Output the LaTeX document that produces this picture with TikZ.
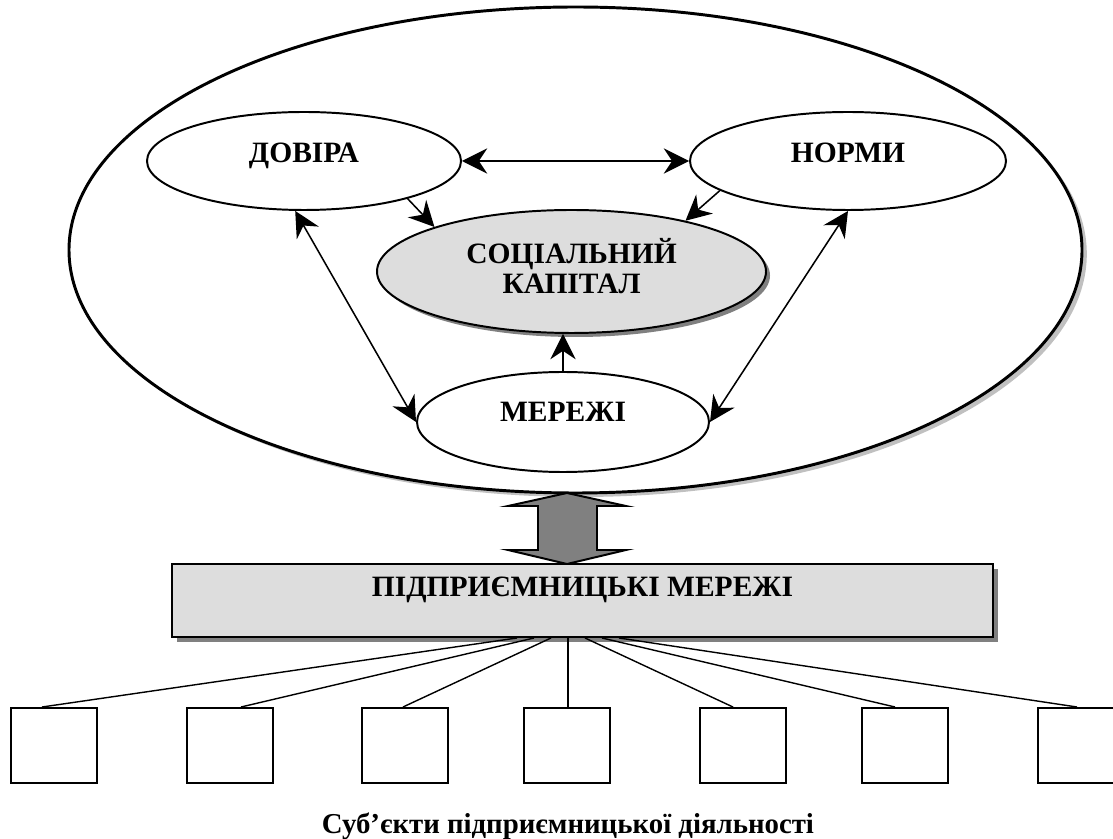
\documentclass[tikz,border=0pt]{standalone}
\usepackage{fontspec}
\setmainfont{Liberation Serif}
\usepackage{xcolor}
\usetikzlibrary{arrows.meta,shapes,shadows,calc,positioning}
\definecolor{capfill}{HTML}{DDDDDD}
\definecolor{capshadow}{HTML}{808080}
\definecolor{ringshadow}{HTML}{C0C0C0}

\begin{document}
\begin{tikzpicture}
		\tikzstyle{every node}=[font=\bfseries\fontsize{21}{21.5}\selectfont]
		\tikzstyle{oval}=[ellipse, draw, line width=1.4pt, fill=white, inner sep=0pt]
		\tikzstyle{txt}=[align=center]
		\tikzstyle{link}=[line width=1.1pt, -{Stealth[length=18pt,width=18pt,inset=6pt]}]
		\tikzstyle{dlink}=[line width=1.1pt, {Stealth[length=18pt,width=18pt,inset=6pt]}-{Stealth[length=18pt,width=18pt,inset=6pt]}]
		\tikzstyle{firm}=[draw, line width=1.4pt, fill=white, minimum width=2.15cm, minimum height=1.875cm, inner sep=0pt]
		\useasboundingbox (0,0) rectangle (27.825,20.95);
		\clip (0,0) rectangle (27.825,20.95);
		\node [ellipse, draw, line width=2.1pt, fill=white, minimum width=25.325cm, minimum height=12.15cm, drop shadow={shadow xshift=0.12cm, shadow yshift=-0.1cm, fill=ringshadow, opacity=1}] (sfera) at (14.3875,14.7) {};
		\node [oval, minimum width=7.85cm, minimum height=2.45cm, label={[txt, yshift=0.14cm]center:ДОВІРА}] (dovira) at (7.6,16.925) {};
		\node [oval, minimum width=7.9cm, minimum height=2.45cm, label={[txt, yshift=0.21cm]center:НОРМИ}] (normy) at (21.2,16.925) {};
		\node [oval, fill=capfill, minimum width=9.725cm, minimum height=3.075cm, drop shadow={shadow xshift=0.1cm, shadow yshift=-0.1cm, fill=capshadow, opacity=1}, label={[txt, yshift=0.14cm]center:СОЦІАЛЬНИЙ\\КАПІТАЛ}] (kapital) at (14.2875,14.1625) {};
		\node [oval, minimum width=7.3cm, minimum height=2.5cm, label={[txt, yshift=0.25cm]center:МЕРЕЖІ}] (merezhi) at (14.075,10.4) {};
		\draw [dlink] (dovira.east) -- (normy.west);
		\draw [link] (dovira.-20) -- (kapital.162);
		\draw [link] (normy.193) -- (kapital.24);
		\draw [link] (merezhi.north) -- (merezhi.north |- kapital.south);
		\draw [dlink] (dovira.-100) -- (merezhi.west);
		\draw [dlink] (normy.south) -- (merezhi.east);
		\draw [line width=1.4pt, fill=capshadow] (14.175,8.625) -- (15.65,8.3) -- (14.925,8.3) -- (14.925,7.2) -- (15.65,7.2) -- (14.175,6.85) -- (12.7,7.2) -- (13.45,7.2) -- (13.45,8.3) -- (12.7,8.3) -- cycle;
		\node [draw, line width=1.4pt, fill=capfill, minimum width=20.525cm, minimum height=1.825cm, inner sep=0pt, drop shadow={shadow xshift=0.12cm, shadow yshift=-0.12cm, fill=capshadow, opacity=1}, label={[txt, yshift=0.26cm]center:ПІДПРИЄМНИЦЬКІ МЕРЕЖІ}] (pidpr) at (14.5625,5.9375) {};
		\foreach \i/\x/\dx/\ex in {1/1.35/-1.6375/-0.3, 2/5.75/-1.2125/0.275, 3/10.125/-0.7875/-0.05, 4/14.175/-0.3625/0.025, 5/18.575/0.0625/-0.25, 6/22.625/0.4875/-0.25, 7/27.025/0.9125/-0.1} {
			\node [firm] (sub\i) at (\x,2.3125) {};
			\draw [line width=1pt] ([xshift=\dx cm]pidpr.south) -- ([xshift=\ex cm]sub\i.north);
		}
		\node [anchor=base, font=\bfseries\fontsize{20.5}{21.5}\selectfont] (subjekty) at (14.2,0.125) {Суб’єкти підприємницької діяльності};
	\end{tikzpicture}
\end{document}
